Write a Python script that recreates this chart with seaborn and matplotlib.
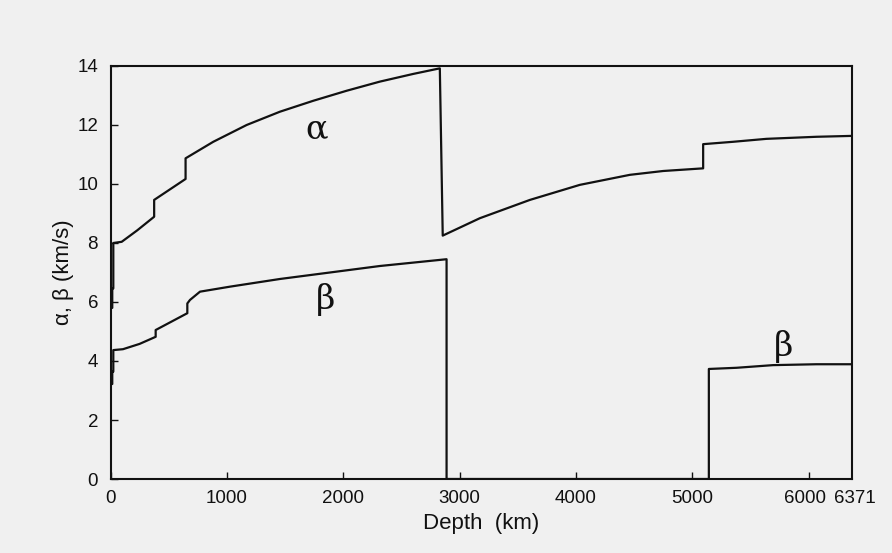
import numpy as np
import pandas as pd
import matplotlib
matplotlib.use("Agg")
import matplotlib.pyplot as plt
import matplotlib.transforms as mtransforms
import seaborn as sns

# P-wave velocity (alpha), km/s, versus depth, km
alpha_depth = [0, 15, 15, 24, 24, 96, 230, 375, 375, 645, 645,
               883, 1170, 1456, 1742, 2029, 2315, 2601, 2830,
               2855, 3174, 3604, 4033, 4463, 4749, 5093, 5093,
               5350, 5637, 6067, 6371]
alpha_vel = [5.8, 5.8, 6.46, 6.46, 8.0, 8.04, 8.43, 8.89, 9.46, 10.17, 10.87,
             11.43, 12.0, 12.45, 12.82, 13.16, 13.47, 13.73, 13.92,
             8.25, 8.84, 9.46, 9.97, 10.31, 10.44, 10.53, 11.35,
             11.43, 11.53, 11.60, 11.63]

# S-wave velocity (beta), km/s, versus depth, km
beta_depth = [0, 15, 15, 24, 24, 107, 250, 388, 388, 660, 660, 683,
              769, 1027, 1456, 1886, 2315, 2888, 2888, 5142, 5142,
              5380, 5694, 6067, 6371]
beta_vel = [3.22, 3.22, 3.64, 3.64, 4.37, 4.40, 4.58, 4.82, 5.05, 5.62, 5.95, 6.07,
            6.35, 6.52, 6.78, 7.00, 7.22, 7.45, 0.0, 0.0, 3.73,
            3.77, 3.86, 3.89, 3.89]

x_ticks = [0, 1000, 2000, 3000, 4000, 5000, 6000, 6371]
x_labels = ["0", "1000", "2000", "3000", "4000", "5000", "6000", "6371"]
y_ticks = [0, 2, 4, 6, 8, 10, 12, 14]

alpha_df = pd.DataFrame({"depth": alpha_depth, "vel": alpha_vel})
beta_df = pd.DataFrame({"depth": beta_depth, "vel": beta_vel})

sns.set_theme(style="ticks")
plt.rcParams["font.family"] = ["Liberation Sans", "DejaVu Sans"]

bg = "#f0f0f0"
ink = "#111111"
fig = plt.figure(figsize=(8.92, 5.53), dpi=100, facecolor=bg)
ax = fig.add_axes([0.1239, 0.1338, 0.955 - 0.1239, 0.8807 - 0.1338])
ax.set_facecolor(bg)

line_kw = dict(color=ink, linewidth=1.6, sort=False, estimator=None,
               legend=False)
sns.lineplot(data=alpha_df, x="depth", y="vel", ax=ax, **line_kw)
sns.lineplot(data=beta_df, x="depth", y="vel", ax=ax, **line_kw)

ax.set_xlim(0, 6371)
ax.set_ylim(0, 14)
ax.set_xticks(x_ticks)
ax.set_xticklabels(x_labels)
ax.set_yticks(y_ticks)

for side in ["left", "right", "top", "bottom"]:
    ax.spines[side].set_visible(True)
    ax.spines[side].set_color(ink)
    ax.spines[side].set_linewidth(1.5)

ax.tick_params(axis="both", direction="in", length=5, width=1.0,
               color=ink, labelsize=13.5, labelcolor=ink)
ax.tick_params(axis="x", pad=8)
ax.tick_params(axis="y", pad=9)
ax.xaxis.get_major_ticks()[-1].tick1line.set_visible(False)

# keep the two crowded labels at the right end apart
labels = ax.get_xticklabels()
for lab, dx in ((labels[-2], -4), (labels[-1], 3)):
    lab.set_transform(lab.get_transform() +
                      mtransforms.ScaledTranslation(dx / 100, 0, fig.dpi_scale_trans))

ax.set_xlabel("Depth  (km)", fontsize=16, color=ink, labelpad=4)
ax.set_ylabel("α, β (km/s)", fontsize=16, color=ink, labelpad=2)

greek = dict(fontsize=24, family=["DejaVu Serif"], color=ink,
             ha="center", va="center")
ax.text(1770, 11.85, "α", **greek)
ax.text(1850, 6.1, "β", **greek)
ax.text(5780, 4.5, "β", **greek)

fig.savefig("out.png", dpi=100, facecolor=bg)
